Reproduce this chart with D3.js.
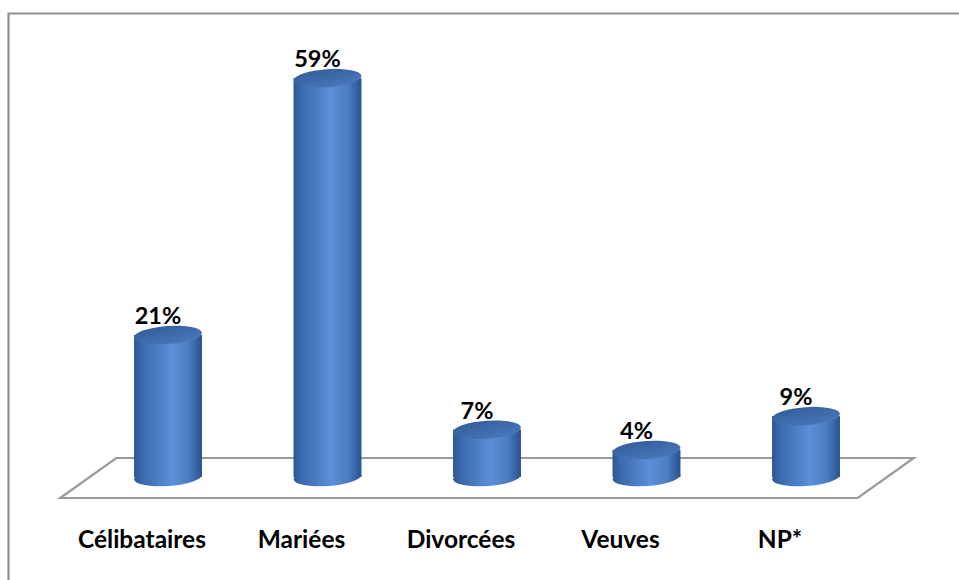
<!DOCTYPE html>
<html>
<head>
<meta charset="utf-8">
<script src="https://cdn.jsdelivr.net/npm/d3@7"></script>
<style>
  html, body { margin: 0; padding: 0; background: #fff; }
  svg { display: block; }
  text { font-family: Lato, "Open Sans", sans-serif; font-weight: 700; fill: #000; }
</style>
</head>
<body>
<svg id="chart" width="959" height="580"></svg>
<script>
// Répartition selon la situation matrimoniale
const categories = ["Célibataires", "Mariées", "Divorcées", "Veuves", "NP*"];
const values = [21, 59, 7, 4, 9];
const valueLabels = ["21%", "59%", "7%", "4%", "9%"];

const W = 959, H = 580;
const svg = d3.select("#chart");

// scales
const x = d3.scaleBand()
  .domain(categories)
  .range([88.25, 885.75])
  .paddingInner(0.574)
  .paddingOuter(0.287);
const y = d3.scaleLinear().domain([0, 60]).range([477, 71.4]);

const ry = 9;          // ellipse half-height of the cylinder caps
const tilt = -4;       // slight perspective tilt of the caps
const depthX = 28, depthY = 20;

// gradients
const defs = svg.append("defs");
const body = defs.append("linearGradient").attr("id", "bodyGrad")
  .attr("x1", "0").attr("x2", "1").attr("y1", "0").attr("y2", "0");
[["0%", "#2c5794"], ["12%", "#3b6aad"], ["55%", "#5b8fd7"], ["80%", "#4b7dc3"], ["100%", "#2a538d"]]
  .forEach(([o, c]) => body.append("stop").attr("offset", o).attr("stop-color", c));
const cap = defs.append("linearGradient").attr("id", "capGrad")
  .attr("x1", "0").attr("x2", "0.6").attr("y1", "0").attr("y2", "1");
[["0%", "#325b97"], ["100%", "#4676b8"]]
  .forEach(([o, c]) => cap.append("stop").attr("offset", o).attr("stop-color", c));

// outer frame (top and left edges)
svg.append("path")
  .attr("d", `M8.5,${H} L8.5,13.5 L${W},13.5`)
  .attr("fill", "none").attr("stroke", "#8f8f8f").attr("stroke-width", 2.2);

// floor of the 3D plot
const [r0, r1] = x.range();
const y0 = y(0) + 1;
svg.append("polygon")
  .attr("points", [
    [r0 + depthX, y0 - depthY], [r1 + depthX, y0 - depthY],
    [r1 - depthX, y0 + depthY], [r0 - depthX, y0 + depthY]
  ].map(p => p.join(",")).join(" "))
  .attr("fill", "#fff").attr("stroke", "#9a9a9a").attr("stroke-width", 2.2);

// cylinders
const bw = x.bandwidth();
const g = svg.append("g");
categories.forEach((c, i) => {
  const cx = x(c) + bw / 2;
  const yt = y(values[i]);
  const yb = y(0);
  const bar = g.append("g");
  bar.append("ellipse")
    .attr("cx", cx).attr("cy", yb).attr("rx", bw / 2).attr("ry", ry)
    .attr("transform", `rotate(${tilt},${cx},${yb})`)
    .attr("fill", "url(#bodyGrad)");
  bar.append("rect")
    .attr("x", cx - bw / 2).attr("y", yt).attr("width", bw).attr("height", yb - yt)
    .attr("fill", "url(#bodyGrad)");
  bar.append("ellipse")
    .attr("cx", cx).attr("cy", yt).attr("rx", bw / 2).attr("ry", ry)
    .attr("transform", `rotate(${tilt},${cx},${yt})`)
    .attr("fill", "url(#capGrad)");
});

// value labels
svg.append("g").selectAll("text").data(categories).join("text")
  .attr("x", c => x(c) + bw / 2 - 10)
  .attr("y", (c, i) => y(values[i]) - ry - 2)
  .attr("text-anchor", "middle")
  .attr("font-size", 23.5)
  .text((c, i) => valueLabels[i]);

// category labels along the front of the floor
svg.append("g").selectAll("text").data(categories).join("text")
  .attr("x", c => x(c) + bw / 2 - 26)
  .attr("y", 548)
  .attr("text-anchor", "middle")
  .attr("font-size", 24.5)
  .text(c => c);
</script>
</body>
</html>
